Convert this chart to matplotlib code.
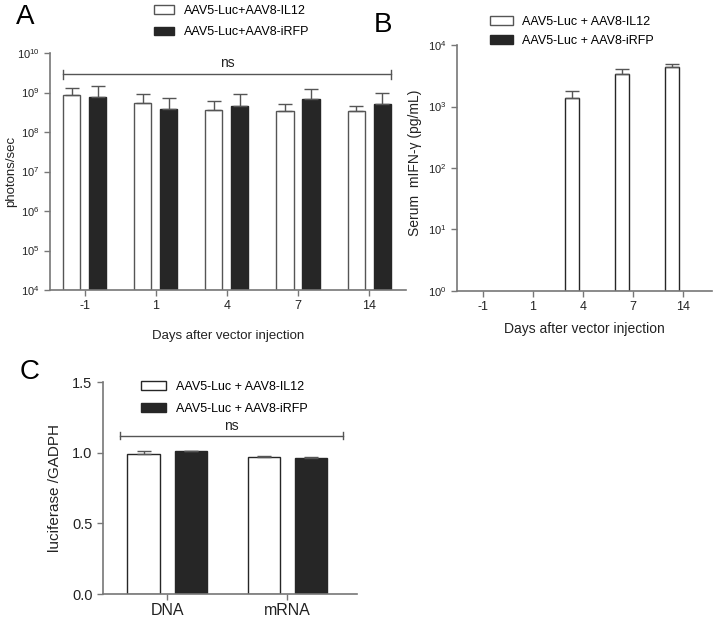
import matplotlib
matplotlib.use("Agg")
import matplotlib.pyplot as plt
import numpy as np
from matplotlib.patches import Patch

plt.rcParams['font.family'] = ['Liberation Sans', 'DejaVu Sans']
plt.rcParams['mathtext.fontset'] = 'custom'
plt.rcParams['mathtext.rm'] = 'Liberation Sans'

# ---------------- data ----------------
days = ["-1", "1", "4", "7", "14"]
a_il12 = [8.7e8, 5.4e8, 3.6e8, 3.5e8, 3.4e8]
a_il12_top = [1.3e9, 9.1e8, 6.0e8, 5.2e8, 4.6e8]
a_irfp = [7.7e8, 3.8e8, 4.6e8, 6.9e8, 5.1e8]
a_irfp_top = [1.46e9, 7.3e8, 9.1e8, 1.2e9, 1.0e9]

b_il12 = [0, 0, 1370, 3370, 4370]
b_il12_top = [0, 0, 1780, 4060, 4900]
b_irfp = [0, 0, 0, 0, 0]

c_cats = ["DNA", "mRNA"]
c_il12 = [0.99, 0.97]
c_il12_top = [1.015, 0.975]
c_irfp = [1.01, 0.96]
c_irfp_top = [1.012, 0.968]

leg_a = ["AAV5-Luc+AAV8-IL12", "AAV5-Luc+AAV8-iRFP"]
leg_bc = ["AAV5-Luc + AAV8-IL12", "AAV5-Luc + AAV8-iRFP"]

AX = '#777777'
DARK = '#262626'
EDGE = '#555555'

fig = plt.figure(figsize=(7.16, 6.19), dpi=100)

def style(ax):
    for s in ['top', 'right']:
        ax.spines[s].set_visible(False)
    for s in ['left', 'bottom']:
        ax.spines[s].set_color(AX)
        ax.spines[s].set_linewidth(1.2)
    ax.tick_params(colors=AX, labelcolor='#222222', direction='out', length=4, width=1.0)

def upper_err(ax, x, val, top):
    for xi, v, t in zip(x, val, top):
        if v > 0 and t > v:
            ax.errorbar(xi, v, yerr=[[0], [t - v]], fmt='none', ecolor=EDGE,
                        elinewidth=1.0, capsize=5, capthick=1.0)

def ns_bar(ax, x0, x1, y, cap, text_y):
    ax.plot([x0, x1], [y, y], color=EDGE, lw=1.0, clip_on=False)
    for xx in (x0, x1):
        ax.plot([xx, xx], [y / cap if ax.get_yscale() == 'log' else y - cap,
                           y * cap if ax.get_yscale() == 'log' else y + cap],
                color=EDGE, lw=1.0, clip_on=False)
    ax.text((x0 + x1) / 2, text_y, "ns", ha='center', va='bottom', fontsize=10, color='#222222')

# ---------------- Panel A ----------------
axA = fig.add_axes([50/716, 1-290/619, 356/716, 237/619])
x = np.arange(len(days))
off, w = 0.183, 0.24
axA.set_yscale('log')
axA.bar(x - off, a_il12, w, bottom=1e4, color='white', edgecolor=EDGE, linewidth=1.0)
axA.bar(x + off, np.array(a_irfp) - 1e4, w, bottom=1e4, color=DARK, edgecolor=DARK, linewidth=1.0)
upper_err(axA, x - off, a_il12, a_il12_top)
upper_err(axA, x + off, a_irfp, a_irfp_top)
axA.set_ylim(1e4, 1e10)
axA.set_xlim(-0.49, 4.52)
axA.set_yticks([10.0**k for k in range(4, 11)])
axA.set_yticklabels([r'$\mathregular{10^{%d}}$' % k for k in range(4, 11)], fontsize=8)
axA.minorticks_off()
axA.set_xticks(x)
axA.set_xticklabels(days, fontsize=9)
style(axA)
axA.set_ylabel("photons/sec", fontsize=9.5, color='#222222')
axA.yaxis.set_label_coords(-0.092, 0.5)
axA.set_xlabel("Days after vector injection", fontsize=9.5, color='#222222', labelpad=13)
ns_bar(axA, -0.31, 4.31, 2.9e9, 1.3, 3.7e9)
axA.legend([Patch(facecolor='white', edgecolor=EDGE), Patch(facecolor=DARK, edgecolor=DARK)],
           leg_a, loc='lower left', bbox_to_anchor=(0.27, 1.03), frameon=False, fontsize=9,
           handlelength=1.6, handleheight=0.7, labelspacing=0.75, borderaxespad=0.2)
fig.text(25/716, 1-17/619, "A", fontsize=20, ha='center', va='center')

# ---------------- Panel B ----------------
axB = fig.add_axes([457/716, 1-291/619, 255/716, 246/619])
offb, wb = 0.22, 0.28
axB.set_yscale('log')
bi = [v if v > 0 else np.nan for v in b_il12]
bb = [v if v > 0 else np.nan for v in b_irfp]
axB.bar(x - offb, np.array(bi) - 1, wb, bottom=1, color='white', edgecolor=DARK, linewidth=1.0)
axB.bar(x + offb, np.array(bb) - 1, wb, bottom=1, color=DARK, edgecolor=DARK, linewidth=1.0)
upper_err(axB, x - offb, b_il12, b_il12_top)
axB.set_ylim(1, 1e4)
axB.set_xlim(-0.52, 4.58)
axB.set_yticks([10.0**k for k in range(0, 5)])
axB.set_yticklabels([r'$\mathregular{10^{%d}}$' % k for k in range(0, 5)], fontsize=8)
axB.minorticks_off()
axB.set_xticks(x)
axB.set_xticklabels(days, fontsize=9)
style(axB)
axB.set_ylabel("Serum  mIFN-γ (pg/mL)", fontsize=10, color='#222222')
axB.yaxis.set_label_coords(-0.137, 0.52)
axB.set_xlabel("Days after vector injection", fontsize=10, color='#222222', labelpad=6)
axB.legend([Patch(facecolor='white', edgecolor=EDGE), Patch(facecolor=DARK, edgecolor=DARK)],
           leg_bc, loc='lower left', bbox_to_anchor=(0.1, 0.963), frameon=False, fontsize=9,
           handlelength=1.8, handleheight=0.7, labelspacing=0.55, borderaxespad=0.2)
fig.text(383/716, 1-25/619, "B", fontsize=20, ha='center', va='center')

# ---------------- Panel C ----------------
axC = fig.add_axes([103/716, 1-594/619, 254/716, 212/619])
xc = np.arange(len(c_cats))
offc, wc = 0.196, 0.267
axC.bar(xc - offc, c_il12, wc, color='white', edgecolor=DARK, linewidth=1.0)
axC.bar(xc + offc, c_irfp, wc, color=DARK, edgecolor=DARK, linewidth=1.0)
upper_err(axC, xc - offc, c_il12, c_il12_top)
upper_err(axC, xc + offc, c_irfp, c_irfp_top)
axC.set_ylim(0, 1.5)
axC.set_xlim(-0.533, 1.58)
axC.set_yticks([0.0, 0.5, 1.0, 1.5])
axC.set_yticklabels(["0.0", "0.5", "1.0", "1.5"], fontsize=10.5)
axC.set_xticks(xc)
axC.set_xticklabels(c_cats, fontsize=11.5)
style(axC)
axC.tick_params(axis='x', pad=2.5)
axC.set_ylabel("luciferase /GADPH", fontsize=11, color='#222222')
axC.yaxis.set_label_coords(-0.16, 0.5)
ns_bar(axC, -0.39, 1.46, 1.12, 0.025, 1.14)
axC.legend([Patch(facecolor='white', edgecolor=DARK), Patch(facecolor=DARK, edgecolor=DARK)],
           leg_bc, loc='upper left', bbox_to_anchor=(0.12, 1.04), frameon=False, fontsize=9,
           handlelength=2.0, handleheight=0.7, labelspacing=0.8, borderaxespad=0.2)
fig.text(30/716, 1-372/619, "C", fontsize=20, ha='center', va='center')

fig.savefig("out.png", dpi=100)
